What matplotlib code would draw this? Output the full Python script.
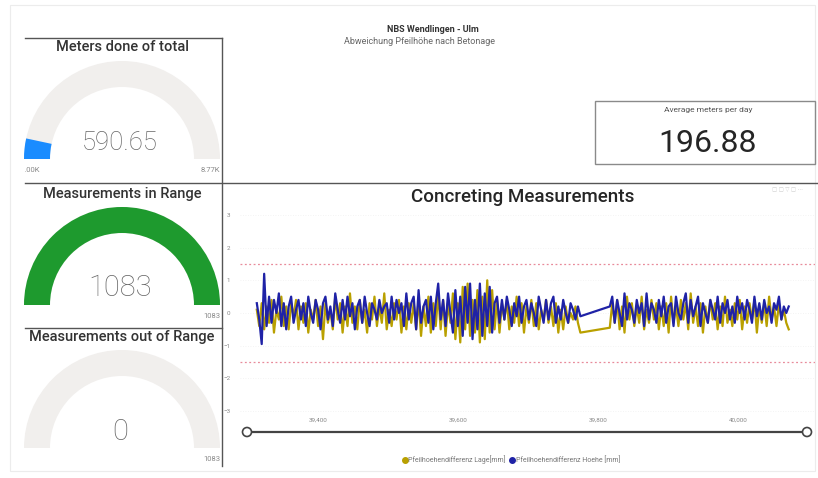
import numpy as np
import matplotlib
matplotlib.use("Agg")
import matplotlib.pyplot as plt
from matplotlib.patches import Wedge, Rectangle, Circle
from matplotlib.lines import Line2D
from matplotlib.transforms import Bbox, TransformedBbox

plt.rcParams['font.family'] = ['Roboto', 'DejaVu Sans']

# dashboard numbers
meters_done = 590.65
meters_total = 8770
in_range = 1083
out_range = 0
n_measurements = 1083
avg_per_day = 196.88

# station (m) of the measurements, two stretches with a gap between
station_a = np.arange(39313, 39776, 3.5)
station_b = np.arange(39817, 40073, 3.5)

lage_a = [0.1, -0.4, 0.3, -0.5, 0.2, -0.3, 0.4, -0.6, 0.1, -0.2,
          0.5, -0.4, 0.2, -0.5, 0.3, -0.1, 0.4, -0.5, 0.2, -0.3,
          0.3, -0.6, 0.1, -0.2, 0.4, -0.4, 0.2, -0.8, 0.3, -0.3,
          0.1, -0.5, 0.5, -0.2, 0.3, -0.6, 0.2, -0.4, 0.6, -0.3,
          0.2, -0.5, 0.4, -0.3, 0.1, -0.6, 0.3, -0.2, 0.5, -0.4,
          0.2, -0.3, 0.6, -0.5, 0.1, -0.4, 0.3, -0.2, 0.4, -0.6,
          0.2, -0.5, 0.3, -0.3, 0.3, -0.5, 0.4, -0.7, 0.2, -0.4,
          0.5, -0.6, 0.3, -0.4, 0.6, -0.5, 0.4, -0.7, 0.3, -0.3,
          0.6, -0.8, 0.3, -0.9, 0.8, -0.5, 0.9, -0.7, 0.4, -0.6,
          0.7, -0.9, 0.5, -0.8, 1.0, -0.6, 0.7, -0.5, 0.4, -0.6,
          0.3, -0.2, 0.4, -0.5, 0.2, -0.3, 0.5, -0.4, 0.3, -0.6,
          0.2, -0.3, 0.4, -0.4, 0.3, -0.5, 0.1, -0.2, 0.4, -0.3,
          0.2, -0.4, 0.3, -0.6, 0.1, -0.5, 0.2, -0.3, 0.0, -0.2,
          0.2, -0.3, -0.6]
hoehe_a = [0.3, -0.2, -0.95, 1.2, -0.4, 0.5, -0.3, 0.4, 0.0, 0.6,
           -0.4, 0.3, -0.5, 0.2, 0.5, -0.3, 0.1, 0.4, -0.2, 0.3,
           -0.4, 0.5, 0.0, -0.3, 0.4, 0.1, -0.5, 0.3, 0.5, -0.2,
           0.2, -0.4, 0.6, 0.1, -0.3, 0.4, -0.2, 0.5, -0.1, 0.3,
           -0.5, 0.2, 0.4, -0.3, 0.5, 0.0, -0.4, 0.3, 0.1, -0.2,
           0.4, 0.0, 0.2, 0.3, -0.3, 0.5, -0.2, 0.4, 0.0, 0.3,
           -0.4, 0.6, -0.2, 0.3, 0.5, -0.5, 0.7, -0.3, 0.2, 0.4,
           -0.3, 0.5, -0.5, 0.3, 0.9, -0.2, 0.4, -0.4, 0.6, 0.0,
           -0.6, 0.7, -0.4, 0.5, -0.7, 0.8, -0.3, 0.9, -0.8, 0.4,
           -0.5, 0.9, -0.7, 0.6, -0.4, 0.8, -0.6, 0.3, 0.5, -0.3,
           0.4, -0.2, 0.5, 0.1, -0.4, 0.3, -0.1, 0.5, -0.3, 0.2,
           0.4, -0.2, 0.3, 0.0, -0.4, 0.5, 0.1, -0.3, 0.4, -0.2,
           0.3, 0.5, -0.3, 0.2, -0.2, 0.4, 0.0, -0.3, 0.3, 0.1,
           -0.2, 0.2, -0.1]
lage_b = [-0.45, 0.3, -0.3, 0.4, -0.5, 0.2, -0.6, 0.5, -0.2, 0.3,
          -0.4, 0.2, -0.3, 0.5, -0.5, 0.1, -0.3, 0.4, -0.2, 0.3,
          -0.5, 0.2, -0.4, 0.3, -0.6, 0.5, -0.3, 0.2, -0.4, 0.4,
          -0.2, 0.3, -0.5, 0.6, -0.3, 0.2, -0.4, 0.3, -0.6, 0.2,
          -0.3, 0.4, -0.2, 0.3, -0.5, 0.2, -0.4, 0.5, -0.3, 0.1,
          -0.4, 0.3, -0.2, 0.4, -0.5, 0.2, -0.3, 0.3, -0.2, 0.4,
          -0.6, 0.2, -0.3, 0.3, -0.4, 0.5, -0.2, 0.2, -0.4, 0.3,
          -0.2, 0.1, -0.3, -0.5]
hoehe_b = [0.2, 0.5, -0.3, 0.4, 0.0, -0.4, 0.6, -0.2, 0.3, 0.1,
           -0.3, 0.4, 0.0, 0.3, -0.4, 0.6, -0.2, 0.3, 0.1, -0.3,
           0.4, -0.1, 0.5, -0.3, 0.2, 0.3, -0.4, 0.5, 0.0, -0.2,
           0.3, 0.6, -0.3, 0.4, -0.1, 0.2, 0.5, -0.4, 0.3, 0.0,
           -0.3, 0.4, 0.1, -0.2, 0.5, -0.3, 0.3, 0.0, 0.4, -0.2,
           0.2, -0.3, 0.5, 0.0, 0.3, -0.2, 0.4, 0.1, -0.3, 0.5,
           -0.1, 0.3, -0.2, 0.4, 0.0, 0.2, -0.3, 0.3, 0.1, 0.5,
           -0.2, 0.2, 0.0, 0.2]

limit = 1.5
x_ticks = [39400, 39600, 39800, 40000]
y_ticks = [-3, -2, -1, 0, 1, 2, 3]

stations = np.concatenate([station_a, station_b])
lage = np.array(lage_a + lage_b)
hoehe = np.array(hoehe_a + hoehe_b)

W, H = 818, 478
fig = plt.figure(figsize=(W / 100, H / 100), dpi=100)
fig.patch.set_facecolor('white')

# background layer in pixel coordinates
bg = fig.add_axes([0, 0, 1, 1])
bg.set_xlim(0, W)
bg.set_ylim(H, 0)
bg.axis('off')

bg.add_patch(Rectangle((10, 5), 805, 466, fill=False, ec='#ececec', lw=0.8))

# header
bg.text(433, 29, 'NBS Wendlingen - Ulm', ha='center', va='center', fontsize=6.5,
        fontweight='bold', color='#333333')
bg.text(420, 41, 'Abweichung Pfeilhöhe nach Betonage', ha='center', va='center',
        fontsize=6.5, color='#666666')

# panel borders
dark = '#555555'
bg.plot([25, 222], [38, 38], color=dark, lw=1)
bg.plot([25, 818], [183, 183], color=dark, lw=1)
bg.plot([25, 222], [328, 328], color=dark, lw=1)
bg.plot([222, 222], [38, 466], color=dark, lw=1)

clip = TransformedBbox(Bbox([[25, 0], [222, H]]), bg.transData)


def gauge(cy, value, vmax, color, title, title_y, val_text, val_y, val_size,
          min_text, max_text):
    cx, r, w = 122, 98, 26
    bg.add_patch(Wedge((cx, cy), r, 180, 360, width=w, fc='#f1efed', ec='none'))
    frac = value / vmax
    if frac > 0:
        bg.add_patch(Wedge((cx, cy), r, 180, 180 + 180 * frac, width=w, fc=color, ec='none'))
    bg.text(122, title_y, title, ha='center', va='center', fontsize=10.5,
            fontweight='medium', color='#333333')
    bg.text(120, val_y, val_text, ha='center', va='center', fontsize=val_size,
            fontweight='light', color='#666666')
    t = bg.text(21, cy + 11, min_text, ha='left', va='center', fontsize=5.5, color='#888888')
    t.set_clip_box(clip)
    t.set_clip_on(True)
    bg.text(220, cy + 11, max_text, ha='right', va='center', fontsize=5.5, color='#888888')


gauge(159, meters_done, meters_total, '#1a8cff', 'Meters done of total', 47,
      f'{meters_done:.2f}', 143, 18.5, '0.00K', f'{meters_total / 1000:.2f}K')
gauge(305, in_range, n_measurements, '#1e9a2e', 'Measurements in Range', 194,
      f'{in_range}', 288, 21, '0', f'{n_measurements}')
gauge(448, out_range, n_measurements, '#1e9a2e', 'Measurements out of Range', 337,
      f'{out_range}', 432, 21, '0', f'{n_measurements}')

# card
bg.add_patch(Rectangle((595, 101), 220, 63, fill=False, ec='#8a8a8a', lw=1))
bg.text(708, 110, 'Average meters per day', ha='center', va='center', fontsize=6,
        color='#555555')
bg.text(708, 144, f'{avg_per_day:.2f}', ha='center', va='center', fontsize=23,
        color='#252525')

# line chart
bg.text(523, 197, 'Concreting Measurements', ha='center', va='center', fontsize=13.5,
        fontweight='medium', color='#252525')
bg.text(788, 190, '▢ ▢ ▽ ▢ ⋯', ha='center', va='center', fontsize=4, color='#cccccc')

ax = fig.add_axes([240 / W, 1 - 416 / H, 575 / W, 206 / H])
ax.set_facecolor('none')
ax.plot(stations, lage, color='#b9a000', lw=1.6, zorder=3)
ax.plot(stations, hoehe, color='#1f22a6', lw=1.6, zorder=4)
ax.axhline(limit, color='#e88a9a', lw=0.9, ls=(0, (1.5, 2)), zorder=2)
ax.axhline(-limit, color='#e88a9a', lw=0.9, ls=(0, (1.5, 2)), zorder=2)
ax.set_xlim(39289, 40110)
ax.set_ylim(-3.15, 3.15)
ax.set_xticks(x_ticks)
ax.set_xticklabels([f'{v:,}' for v in x_ticks])
ax.set_yticks(y_ticks)
ax.grid(axis='y', color='#f0f0f0', lw=0.6, ls=(0, (1, 2)))
for s in ax.spines.values():
    s.set_visible(False)
ax.tick_params(length=0, labelsize=4.5, labelcolor='#888888')
ax.tick_params(axis='y', pad=7)
ax.tick_params(axis='x', pad=1)

# range slider
bg.plot([247, 807], [432, 432], color='#444444', lw=1.6, zorder=3)
for sx in (247, 807):
    bg.add_patch(Circle((sx, 432), 4.5, fc='white', ec='#444444', lw=1.2, zorder=4))

handles = [Line2D([], [], ls='none', marker='o', ms=4, color='#b9a000'),
           Line2D([], [], ls='none', marker='o', ms=4, color='#1f22a6')]
leg = fig.legend(handles, ['Pfeilhoehendifferenz Lage[mm]', 'Pfeilhoehendifferenz Hoehe [mm]'],
                 loc='center', bbox_to_anchor=(511 / W, 1 - 460 / H), ncol=2, frameon=False,
                 fontsize=5, handletextpad=0.1, columnspacing=0.6, handlelength=0.8)
for t in leg.get_texts():
    t.set_color('#777777')

fig.savefig('out.png', dpi=100)
